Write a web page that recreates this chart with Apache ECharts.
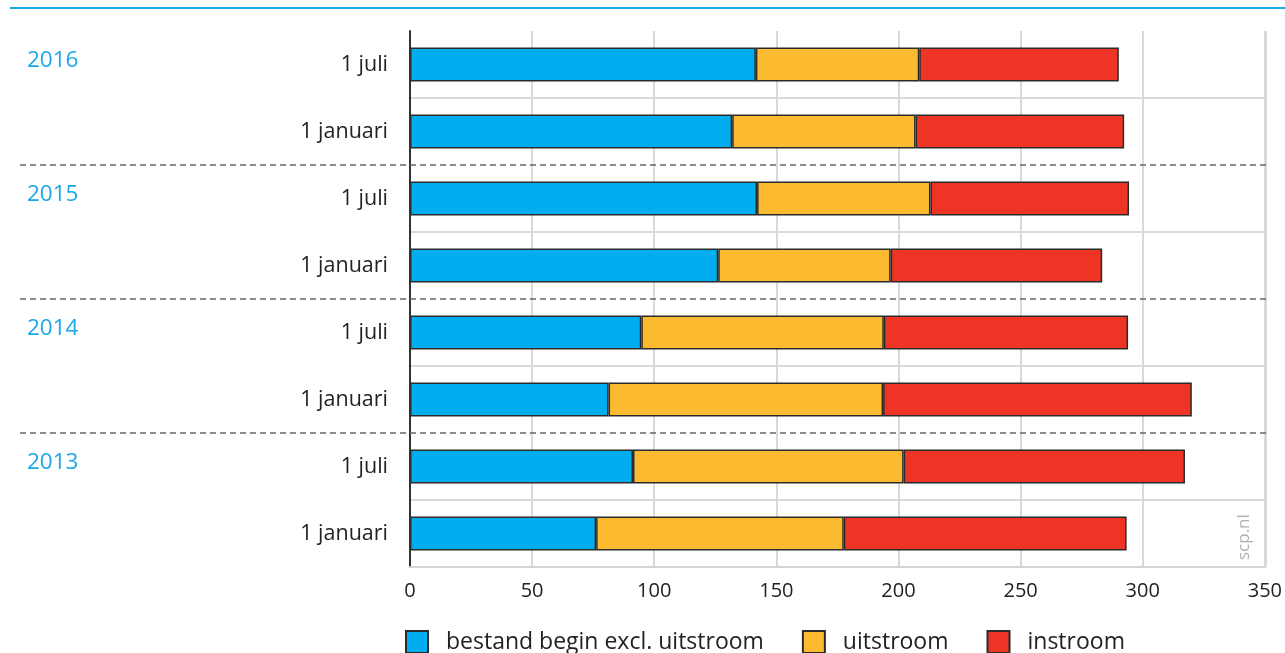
<!DOCTYPE html>
<html><head><meta charset="utf-8">
<script src="https://cdn.jsdelivr.net/npm/echarts@6/dist/echarts.min.js"></script>
<style>html,body{margin:0;padding:0;background:#fff}#c{width:1285px;height:653px}</style>
</head><body><div id="c"></div>
<script>
const years = ['2016', '2016', '2015', '2015', '2014', '2014', '2013', '2013'];
const moments = ['1 juli', '1 januari', '1 juli', '1 januari', '1 juli', '1 januari', '1 juli', '1 januari'];
const bestand = [141.6, 131.9, 142.1, 126.2, 94.7, 81.3, 91.3, 76.2];
const uitstroom = [66.9, 75.1, 71.0, 70.6, 99.3, 112.4, 110.8, 101.4];
const instroom = [81.7, 85.4, 81.3, 86.6, 100.0, 126.4, 115.2, 115.8];
const xTicks = [0, 50, 100, 150, 200, 250, 300, 350];
const seriesNames = ['bestand begin excl. uitstroom', 'uitstroom', 'instroom'];

const cats = moments.map((m, i) => years[i] + '|' + m);
const font = 'Open Sans';
const chart = echarts.init(document.getElementById('c'));
const mk = (name, data, color) => ({
  name, type: 'bar', stack: 's', data, barWidth: 34,
  itemStyle: { color, borderColor: '#2b2b2b', borderWidth: 1.5 },
  emphasis: { disabled: true }
});
chart.setOption({
  animation: false,
  textStyle: { fontFamily: font },
  grid: { left: 410, right: 19, top: 31, bottom: 86, containLabel: false },
  xAxis: {
    type: 'value', min: xTicks[0], max: xTicks[xTicks.length - 1], interval: 50,
    axisLine: { show: true, lineStyle: { color: '#d4d4d4', width: 2 } },
    axisTick: { show: false },
    axisLabel: { color: '#222', fontSize: 20, margin: 14, fontFamily: font },
    splitLine: { show: true, lineStyle: { color: '#d9d9d9', width: 2 } }
  },
  yAxis: {
    type: 'category', data: cats, inverse: true,
    axisLine: { show: true, lineStyle: { color: '#333', width: 2 } },
    axisTick: { show: false },
    axisLabel: { color: '#222', fontSize: 21.5, margin: 22, fontFamily: font,
      formatter: v => v.split('|')[1] },
    splitLine: { show: true, interval: (i) => i % 2 === 1, lineStyle: { color: '#d9d9d9', width: 2 } }
  },
  legend: {
    top: 625, left: 400, padding: 5, itemWidth: 22, itemHeight: 22, itemGap: 38,
    icon: 'rect',
    textStyle: { fontSize: 23, color: '#222', fontFamily: font, padding: [0, 0, 0, 13] },
    data: seriesNames
  },
  series: [
    mk(seriesNames[0], bestand, '#00aeef'),
    mk(seriesNames[1], uitstroom, '#fbba30'),
    mk(seriesNames[2], instroom, '#ee3424')
  ]
});

const graphics = [
  { type: 'line', shape: { x1: 10, y1: 8, x2: 1285, y2: 8 }, style: { stroke: '#1aa9e6', lineWidth: 2 } },
  { type: 'text', x: 1236, y: 560, rotation: Math.PI / 2,
    style: { text: 'scp.nl', fill: '#b0b0b0', fontSize: 17, fontFamily: font, textAlign: 'left', textVerticalAlign: 'top' } }
];
for (let i = 0; i < cats.length; i += 2) {
  const y = chart.convertToPixel({ yAxisIndex: 0 }, cats[i]);
  graphics.push({ type: 'text', x: 27, y: y - 4, style: { text: years[i], fill: '#1aa9e6', fontSize: 22.5, fontFamily: font, textVerticalAlign: 'middle' } });
  if (i > 0) {
    const yPrev = chart.convertToPixel({ yAxisIndex: 0 }, cats[i - 1]);
    const yb = Math.round((y + yPrev) / 2);
    graphics.push({ type: 'line', z: 10, shape: { x1: 20, y1: yb, x2: 1266, y2: yb }, style: { stroke: '#666', lineWidth: 1.5, lineDash: [6, 4] } });
  }
}
graphics.push({ type: 'line', shape: { x1: 1266, y1: 31, x2: 1266, y2: 567 }, style: { stroke: '#d9d9d9', lineWidth: 2 } });
chart.setOption({ graphic: graphics });
</script>
</body></html>
